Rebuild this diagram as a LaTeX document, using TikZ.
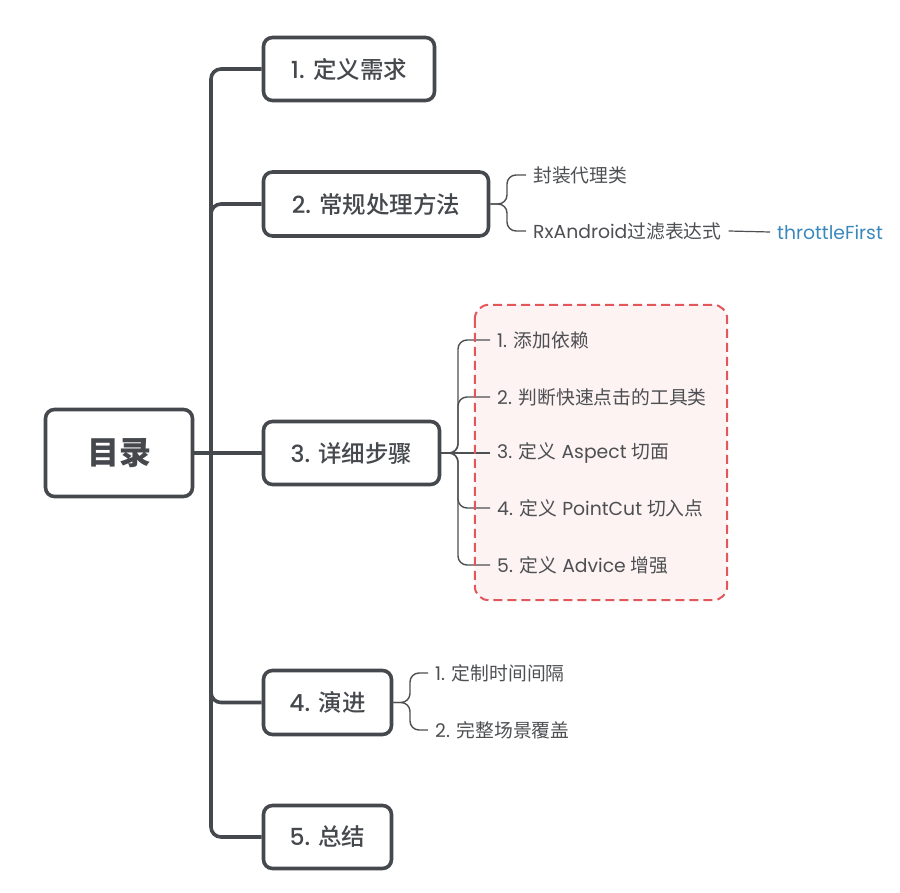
\documentclass[tikz,border=0pt]{standalone}
\usepackage{fontspec}
\setmainfont{Poppins}
\newfontfamily\cjk{Noto Sans CJK SC}[BoldFont={* Medium}]
\newfontfamily\cjkheavy{Noto Sans CJK SC}
\newfontfamily\lat{Poppins}[BoldFont={* Medium}]
\definecolor{dk}{HTML}{45484C}
\definecolor{tx}{HTML}{4D4F52}
\definecolor{bl}{HTML}{3A88BC}
\definecolor{rd}{HTML}{E2575B}
\definecolor{pk}{HTML}{FDF3F3}
\tikzset{
  mainbox/.style={draw=dk, line width=3.6pt, rounded corners=9pt, fill=white, inner sep=0pt, text=dk, font=\bfseries\fontsize{23.5}{27}\selectfont},
  trunk/.style={draw=dk, line width=3.6pt, rounded corners=10pt},
  sub/.style={draw=tx, line width=1.4pt, rounded corners=9pt},
  child/.style={anchor=west, inner xsep=7pt, inner ysep=2pt, text=tx, font=\fontsize{18.8}{22}\selectfont},
  hlbox/.style={fill=pk, rounded corners=14pt},
  hlborder/.style={draw=rd, line width=2pt, dash pattern=on 9pt off 5pt, rounded corners=14pt}
}
\begin{document}
\begin{tikzpicture}[x=1pt,y=-1pt]
\useasboundingbox (0,0) rectangle (900,893);
% highlight fill
\node[hlbox, minimum width=252pt, minimum height=295pt, inner sep=0pt] (hl) at (601,452.5) {};
% main nodes
\node[mainbox, minimum width=147pt, minimum height=87pt, font=\bfseries\fontsize{32}{36}\selectfont] (root) at (119,453) {\cjkheavy 目录};
\node[mainbox, minimum width=171pt, minimum height=63pt] (b1) at (349,69) {{\lat 1. }{\cjk 定义需求}};
\node[mainbox, minimum width=225pt, minimum height=64pt] (b2) at (376,204) {{\lat 2. }{\cjk 常规处理方法}};
\node[mainbox, minimum width=176pt, minimum height=63pt] (b3) at (351.5,453) {{\lat 3. }{\cjk 详细步骤}};
\node[mainbox, minimum width=128pt, minimum height=64pt] (b4) at (327.5,702.5) {{\lat 4. }{\cjk 演进}};
\node[mainbox, minimum width=128pt, minimum height=63pt] (b5) at (327.5,837) {{\lat 5. }{\cjk 总结}};
% trunk
\coordinate (tj) at (211,453);
\draw[trunk] (root.east) -- (tj);
\draw[trunk] (tj) |- (b1.west);
\draw[trunk] (tj) |- (b2.west);
\draw[trunk] (tj) -- (b3.west);
\draw[trunk] (tj) |- (b4.west);
\draw[trunk] (tj) |- (b5.west);
% box 2 children
\node[child] (c21) at (526,175) {\cjk 封装代理类};
\node[child] (c22) at (526,231) {{\lat RxAndroid}{\cjk 过滤表达式}};
\node[child, text=bl] (tf) at (770,232) {\lat throttleFirst};
\coordinate (j2) at (507,204);
\draw[sub] (b2.east) -- (j2) |- (c21.west);
\draw[sub] (b2.east) -- (j2) |- (c22.west);
\draw[draw=tx, line width=1.2pt] (c22.east) -- (tf.west);
% box 3 children
\node[child] (c31) at (490,340) {{\lat 1. }{\cjk 添加依赖}};
\node[child] (c32) at (490,397) {{\lat 2. }{\cjk 判断快速点击的工具类}};
\node[child] (c33) at (490,453) {{\lat 3. }{\cjk 定义}{\lat\ Aspect }{\cjk 切面}};
\node[child] (c34) at (490,508) {{\lat 4. }{\cjk 定义}{\lat\ PointCut }{\cjk 切入点}};
\node[child] (c35) at (490,565) {{\lat 5. }{\cjk 定义}{\lat\ Advice }{\cjk 增强}};
\coordinate (j3) at (458,453);
\draw[sub] (b3.east) -- (j3) |- (c31.west);
\draw[sub] (b3.east) -- (j3) |- (c32.west);
\draw[sub] (b3.east) -- (c33.west);
\draw[sub] (b3.east) -- (j3) |- (c34.west);
\draw[sub] (b3.east) -- (j3) |- (c35.west);
% box 4 children
\node[child] (c41) at (428,673) {{\lat 1. }{\cjk 定制时间间隔}};
\node[child] (c42) at (428,730) {{\lat 2. }{\cjk 完整场景覆盖}};
\coordinate (j4) at (410,702.5);
\draw[sub] (b4.east) -- (j4) |- (c41.west);
\draw[sub] (b4.east) -- (j4) |- (c42.west);
% highlight border
\draw[hlborder] (hl.north west) rectangle (hl.south east);
\end{tikzpicture}
\end{document}
